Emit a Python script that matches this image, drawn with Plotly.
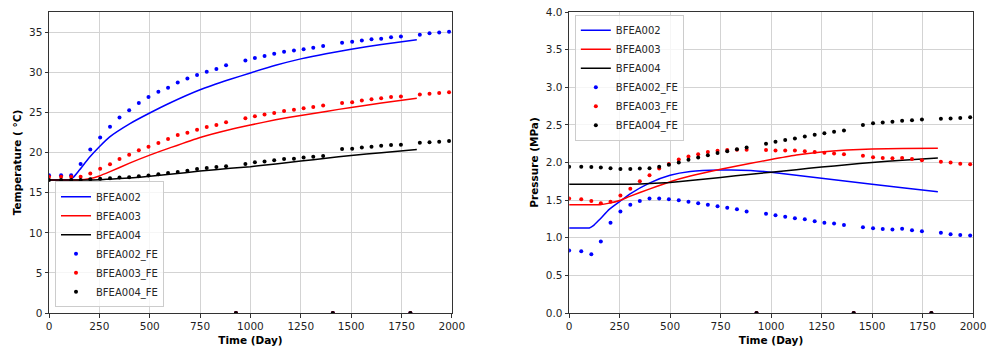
import plotly.graph_objects as go

# ---------------- data ----------------
t_fe = [0, 60, 110, 157, 205, 254, 303, 350, 398, 446, 494, 543, 591, 639, 687, 735, 783, 831, 879, 928,
        975, 1022, 1070, 1118, 1167, 1216, 1264, 1312, 1361, 1409, 1455, 1505, 1553, 1601, 1649, 1698, 1747,
        1794, 1841, 1889, 1937, 1986]

temp_fe_002 = [17.2, 17.2, 17.2, 18.6, 20.4, 21.9, 23.25, 24.4, 25.3, 26.2, 26.95, 27.6, 28.1, 28.75, 29.25, 29.7,
               30.1, 30.45, 30.9, 0, 31.5, 31.8, 32.05, 32.35, 32.6, 32.75, 32.9, 33.1, 33.3, 0, 33.7, 33.85, 34.0,
               34.15, 34.2, 34.4, 34.5, 0, 34.7, 34.9, 35.0, 35.1]
temp_fe_003 = [17.0, 17.0, 17.0, 17.0, 17.4, 18.0, 18.55, 19.2, 19.75, 20.3, 20.75, 21.2, 21.7, 22.2, 22.5, 22.85,
               23.2, 23.45, 23.8, 0, 24.3, 24.55, 24.75, 24.95, 25.2, 25.35, 25.55, 25.7, 25.9, 0, 26.2, 26.3, 26.5,
               26.65, 26.8, 26.95, 27.0, 0, 27.25, 27.35, 27.45, 27.55]
temp_fe_004 = [16.6, 16.6, 16.6, 16.6, 16.67, 16.75, 16.8, 16.9, 16.95, 17.05, 17.15, 17.3, 17.45, 17.6, 17.75, 17.95,
               18.1, 18.2, 18.3, 0, 18.6, 18.8, 18.9, 19.05, 19.2, 19.25, 19.4, 19.5, 19.6, 0, 20.45, 20.5, 20.65,
               20.75, 20.85, 20.95, 21.0, 0, 21.25, 21.3, 21.35, 21.45]

pres_fe_002 = [0.83, 0.82, 0.78, 0.95, 1.2, 1.35, 1.44, 1.49, 1.52, 1.52, 1.51, 1.50, 1.48, 1.46, 1.44, 1.42,
               1.40, 1.38, 1.35, 0, 1.32, 1.30, 1.28, 1.26, 1.245, 1.22, 1.20, 1.19, 1.17, 0, 1.14, 1.125, 1.115,
               1.11, 1.12, 1.10, 1.085, 0, 1.065, 1.045, 1.037, 1.03]
pres_fe_003 = [1.52, 1.51, 1.49, 1.46, 1.48, 1.56, 1.65, 1.75, 1.83, 1.92, 1.98, 2.04, 2.08, 2.11, 2.14, 2.155,
               2.165, 2.17, 2.17, 0, 2.165, 2.16, 2.16, 2.16, 2.15, 2.14, 2.13, 2.12, 2.11, 0, 2.09, 2.07, 2.06,
               2.055, 2.06, 2.045, 2.03, 0, 2.01, 2.0, 1.985, 1.976]
pres_fe_004 = [1.945, 1.945, 1.94, 1.935, 1.925, 1.915, 1.915, 1.92, 1.925, 1.945, 1.97, 2.0, 2.035, 2.065, 2.095,
               2.125, 2.15, 2.175, 2.2, 0, 2.25, 2.275, 2.30, 2.32, 2.345, 2.37, 2.39, 2.41, 2.425, 0, 2.5, 2.52,
               2.53, 2.54, 2.555, 2.56, 2.57, 0, 2.58, 2.585, 2.59, 2.60]

t_sim = [0, 50, 100, 120, 150, 200, 250, 300, 400, 500, 600, 750, 900, 1000, 1125, 1250, 1375, 1500, 1650, 1826]
temp_sim_002 = [16.6, 16.6, 16.6, 16.9, 17.8, 19.4, 20.75, 21.95, 23.6, 24.95, 26.2, 27.85, 29.15, 29.95, 30.9, 31.7,
                32.35, 32.9, 33.5, 34.1]
temp_sim_003 = [16.6, 16.6, 16.6, 16.6, 16.6, 16.75, 17.1, 17.6, 18.7, 19.7, 20.6, 21.9, 22.9, 23.45, 24.1, 24.65,
                25.15, 25.65, 26.2, 26.8]
temp_sim_004 = [16.6, 16.6, 16.6, 16.6, 16.6, 16.6, 16.62, 16.7, 16.85, 17.05, 17.3, 17.7, 18.05, 18.25, 18.6, 18.95,
                19.3, 19.65, 20.0, 20.4]

pres_sim_002 = [1.13, 1.13, 1.13, 1.16, 1.24, 1.38, 1.48, 1.58, 1.73, 1.83, 1.88, 1.90, 1.895, 1.87, 1.83, 1.79,
                1.75, 1.71, 1.665, 1.61]
pres_sim_003 = [1.44, 1.44, 1.44, 1.44, 1.44, 1.46, 1.495, 1.55, 1.65, 1.745, 1.82, 1.91, 1.99, 2.04, 2.1, 2.14,
                2.165, 2.18, 2.187, 2.19]
pres_sim_004 = [1.71, 1.71, 1.71, 1.71, 1.71, 1.71, 1.71, 1.712, 1.72, 1.735, 1.76, 1.80, 1.845, 1.87, 1.905, 1.94,
                1.97, 2.0, 2.03, 2.06]

x_ticks = [0, 250, 500, 750, 1000, 1250, 1500, 1750, 2000]
temp_ticks = [0, 5, 10, 15, 20, 25, 30, 35]
pres_ticks = [0.0, 0.5, 1.0, 1.5, 2.0, 2.5, 3.0, 3.5, 4.0]

names = ["BFEA002", "BFEA003", "BFEA004"]
colors = ["#0000ff", "#ff0000", "#000000"]

# ---------------- figure ----------------
FONT = "DejaVu Sans"
fig = go.Figure()

sim_T = [temp_sim_002, temp_sim_003, temp_sim_004]
fe_T = [temp_fe_002, temp_fe_003, temp_fe_004]
sim_P = [pres_sim_002, pres_sim_003, pres_sim_004]
fe_P = [pres_fe_002, pres_fe_003, pres_fe_004]

for xa, ya, leg, sims, fes in [("x", "y", "legend", sim_T, fe_T), ("x2", "y2", "legend2", sim_P, fe_P)]:
    for n, c, s in zip(names, colors, sims):
        fig.add_trace(go.Scatter(x=t_sim, y=s, mode="lines", name=n,
                                 line=dict(color=c, width=1.5, shape="spline", smoothing=0.5),
                                 xaxis=xa, yaxis=ya, legend=leg))
    for n, c, f in zip(names, colors, fes):
        fig.add_trace(go.Scatter(x=t_fe, y=f, mode="markers", name=n + "_FE", marker=dict(color=c, size=4),
                                 xaxis=xa, yaxis=ya, legend=leg))

W, H = 988, 350
L1, R1 = 49, 452
L2, R2 = 569.3, 973.3
TOP, BOT = 12.3, 312.7
ML, MR, MT, MB = L1, W - R2, TOP, H - BOT
PW = W - ML - MR

axis_common = dict(
    showgrid=True, gridcolor="#d3d3d3", gridwidth=1,
    showline=True, linecolor="#333333", linewidth=1, mirror=True,
    ticks="outside", ticklen=3.5, tickcolor="#333333", tickwidth=1,
    tickfont=dict(family=FONT, size=10.5, color="#1f1f1f"),
    zeroline=False, automargin=False,
)
title_font = dict(family=FONT, size=10.5, color="#000000")

fig.update_layout(
    width=W, height=H,
    margin=dict(l=ML, r=MR, t=MT, b=MB, pad=0),
    paper_bgcolor="white", plot_bgcolor="white",
    font=dict(family=FONT, size=10.5, color="#262626"),
    xaxis=dict(domain=[0, (R1 - L1) / PW], range=[0, 2000], tickvals=x_ticks, anchor="y",
               title=dict(text="<b>Time (Day)</b>", font=title_font, standoff=5), **axis_common),
    yaxis=dict(domain=[0, 1], range=[0, 37.55], tickvals=temp_ticks, anchor="x",
               title=dict(text="<b>Temperature ( °C)</b>", font=title_font, standoff=5), **axis_common),
    xaxis2=dict(domain=[(L2 - L1) / PW, 1], range=[0, 2000], tickvals=x_ticks, anchor="y2",
                title=dict(text="<b>Time (Day)</b>", font=title_font, standoff=5), **axis_common),
    yaxis2=dict(domain=[0, 1], range=[0, 4.0], tickvals=pres_ticks, tickformat=".1f", anchor="x2",
                title=dict(text="<b>Pressure (MPa)</b>", font=title_font, standoff=5), **axis_common),
    legend=dict(x=(55 - L1) / PW, y=(H - 307 - MB) / (H - MT - MB), xanchor="left", yanchor="bottom",
                xref="paper", yref="paper",
                bgcolor="rgba(255,255,255,0.8)", bordercolor="#cccccc", borderwidth=1,
                font=dict(family=FONT, size=10, color="#262626"), itemwidth=30, tracegroupgap=0),
    legend2=dict(x=(575 - L1) / PW, y=(H - 15 - MB) / (H - MT - MB), xanchor="left", yanchor="top",
                 xref="paper", yref="paper",
                 bgcolor="rgba(255,255,255,0.8)", bordercolor="#cccccc", borderwidth=1,
                 font=dict(family=FONT, size=10, color="#262626"), itemwidth=30, tracegroupgap=0),
    showlegend=True,
)

fig.write_html("out.html", config={"displayModeBar": False},
               post_script="document.body.style.margin='0px';")
